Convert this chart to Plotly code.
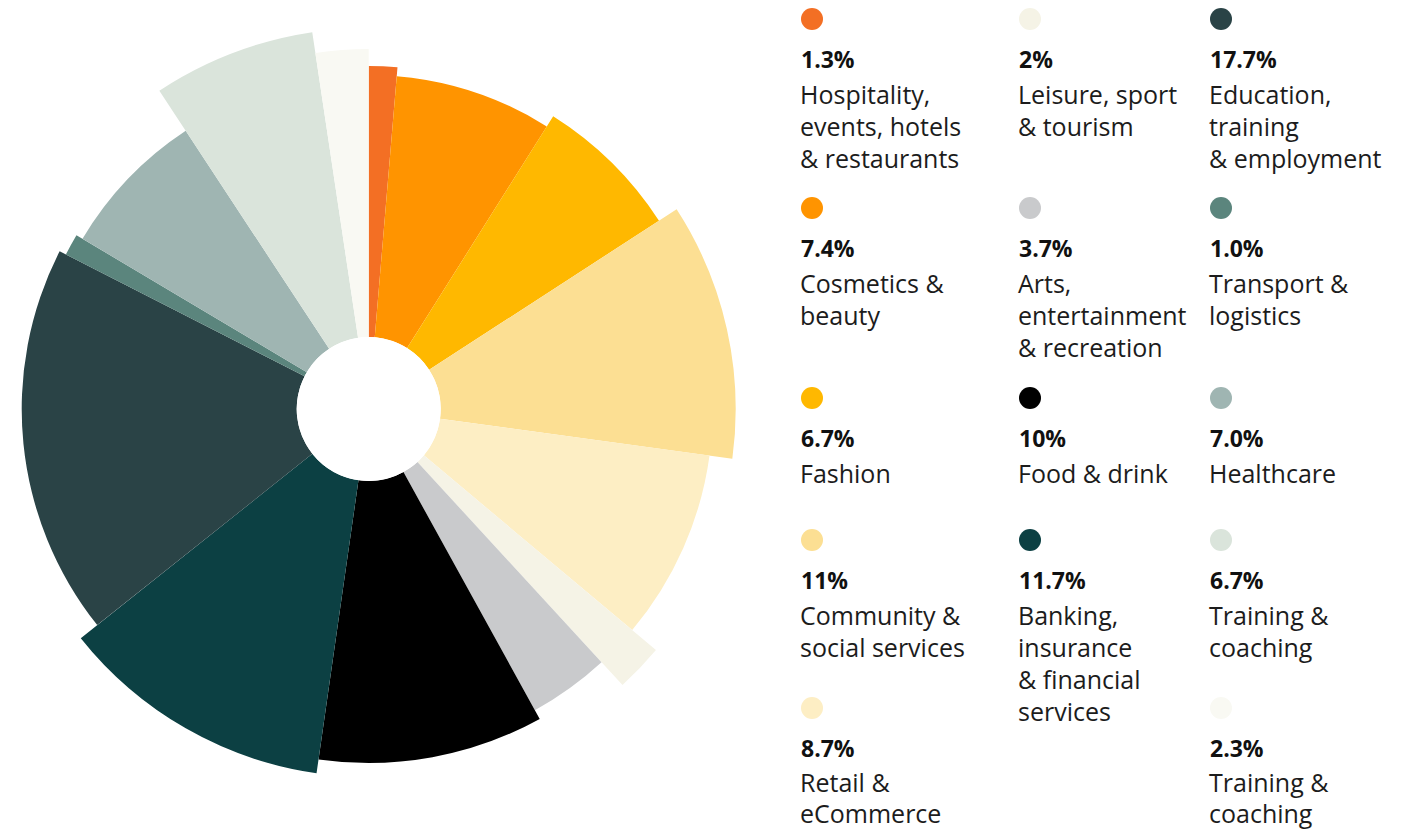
import plotly.graph_objects as go

# ---------------- data ----------------
sectors = [
    "Hospitality, events, hotels & restaurants",
    "Cosmetics & beauty",
    "Fashion",
    "Community & social services",
    "Retail & eCommerce",
    "Leisure, sport & tourism",
    "Arts, entertainment & recreation",
    "Food & drink",
    "Banking, insurance & financial services",
    "Education, training & employment",
    "Transport & logistics",
    "Healthcare",
    "Training & coaching",
    "Training & coaching",
]
shares = [1.3, 7.4, 6.7, 11, 8.7, 2, 3.7, 10, 11.7, 17.7, 1.0, 7.0, 6.7, 2.3]
share_labels = ["1.3%", "7.4%", "6.7%", "11%", "8.7%", "2%", "3.7%", "10%",
                "11.7%", "17.7%", "1.0%", "7.0%", "6.7%", "2.3%"]
radius = [271, 262, 274, 295, 272, 303, 272, 282, 296, 275, 268, 261, 309, 288]
colors = ["#F36F24", "#FF9400", "#FFB800", "#FCDF93", "#FDEEC4", "#F5F3E6",
          "#C9CACC", "#000000", "#0C4043", "#2A4346", "#5B857D", "#9FB5B2",
          "#DAE4DB", "#F9F9F3"]
label_lines = [
    ["Hospitality,", "events, hotels", "& restaurants"],
    ["Cosmetics &", "beauty"],
    ["Fashion"],
    ["Community &", "social services"],
    ["Retail &", "eCommerce"],
    ["Leisure, sport", "& tourism"],
    ["Arts,", "entertainment", "& recreation"],
    ["Food & drink"],
    ["Banking,", "insurance", "& financial", "services"],
    ["Education,", "training", "& employment"],
    ["Transport &", "logistics"],
    ["Healthcare"],
    ["Training &", "coaching"],
    ["Training &", "coaching"],
]

# ---------------- layout helpers ----------------
VIEW_W, H = 1411, 830
SHIFT = 14                      # figure extends this far left of the window
W = VIEW_W + SHIFT
FONT = "Open Sans"
total = sum(shares)
widths = [s / total * 360 for s in shares]
thetas = []
acc = 0.0
for w in widths:
    thetas.append(acc + w / 2)
    acc += w

# polar geometry (figure pixels)
cx, cy, hole_px = 368.7 + SHIFT, 409.0, 72.0
R = cx

# legend grid: column and row per item (window pixels)
leg_col = [0, 0, 0, 0, 0, 1, 1, 1, 1, 2, 2, 2, 2, 2]
leg_row = [0, 1, 2, 3, 4, 0, 1, 2, 3, 0, 1, 2, 3, 4]
col_x = [801, 1019, 1210]
row_y = [19, 208, 398, 540, 708]

fig = go.Figure()

fig.add_trace(go.Barpolar(
    r=radius, theta=thetas, width=widths,
    marker=dict(color=colors, line=dict(width=0)),
    hovertext=sectors, hoverinfo="text", showlegend=False,
))

dot_x = [col_x[c] + 11 for c in leg_col]
dot_y = [row_y[r] for r in leg_row]
fig.add_trace(go.Scatter(
    x=dot_x, y=dot_y, mode="markers",
    marker=dict(size=22, color=colors, line=dict(width=0)),
    hoverinfo="skip", showlegend=False, xaxis="x", yaxis="y",
))

annotations = []
for i in range(len(shares)):
    x0 = col_x[leg_col[i]] - 2
    y0 = row_y[leg_row[i]]
    last_row = leg_row[i] == 4
    annotations.append(dict(
        x=x0, y=y0 + 40, xref="x", yref="y", xanchor="left", yanchor="middle",
        text="<b>" + share_labels[i] + "</b>", showarrow=False,
        font=dict(family=FONT, size=23, color="#111111"),
    ))
    for j, line in enumerate(label_lines[i]):
        annotations.append(dict(
            x=x0 - 1, y=y0 + (74 if last_row else 75) + (31 if last_row else 32) * j,
            xref="x", yref="y",
            xanchor="left", yanchor="middle", text=line, showarrow=False,
            font=dict(family=FONT, size=25, color="#1c1c1c"),
        ))

fig.update_layout(
    width=W, height=H,
    margin=dict(l=0, r=0, t=0, b=0),
    paper_bgcolor="white", plot_bgcolor="rgba(0,0,0,0)",
    polar=dict(
        domain=dict(x=[0, 2 * R / W],
                    y=[(H - cy - R) / H, (H - cy + R) / H]),
        hole=hole_px / R,
        bgcolor="rgba(0,0,0,0)",
        radialaxis=dict(visible=False, range=[0, R - hole_px], showgrid=False),
        angularaxis=dict(visible=False, rotation=90, direction="clockwise",
                         showgrid=False),
    ),
    xaxis=dict(range=[-SHIFT, VIEW_W], visible=False, domain=[0, 1], fixedrange=True),
    yaxis=dict(range=[H, 0], visible=False, domain=[0, 1], fixedrange=True),
    annotations=annotations,
    showlegend=False,
)

fig.write_html(
    "out.html",
    config={"displayModeBar": False},
    post_script=(
        "document.body.style.margin='0';"
        "document.body.style.overflow='hidden';"
        "document.getElementById('{plot_id}').style.marginLeft='-%dpx';" % SHIFT
    ),
)
